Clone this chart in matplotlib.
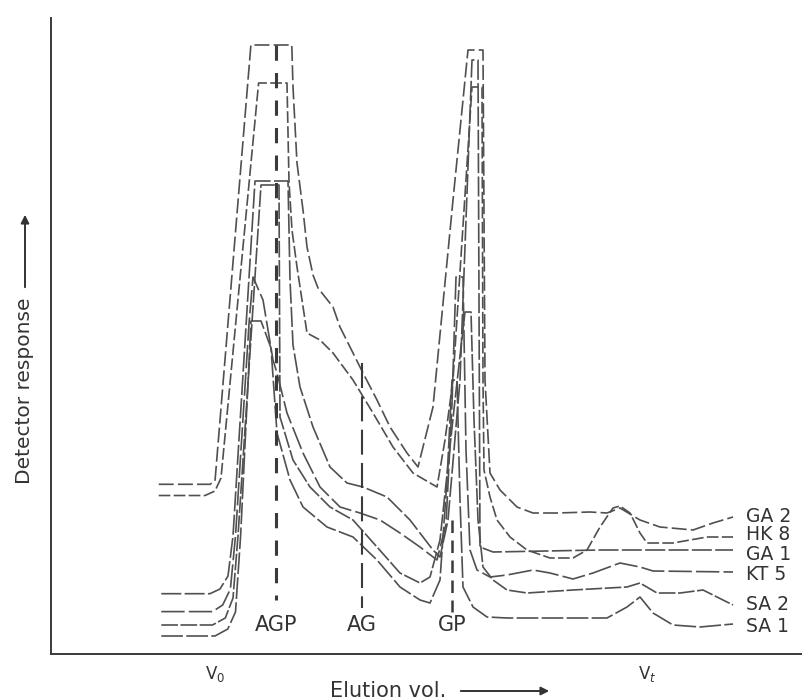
import matplotlib
matplotlib.use("Agg")
import matplotlib.pyplot as plt

# ---- data (elution position, detector response) ----
ga2_x = [158.7, 210, 215, 250.9, 291.8, 293, 297, 303, 307, 313, 318, 333, 340, 353, 363, 377, 390,
         407, 418, 433, 453, 468, 483, 485, 490, 500, 517, 533, 557, 590, 607, 620, 640, 660, 693,
         713, 733]
ga2_y = [169.7, 169.7, 173, 609, 609, 567, 491, 444, 407, 379, 366, 347, 327, 301, 281, 254, 227,
         201, 187, 247, 454, 604, 604, 274, 181, 164, 147, 141, 141, 142, 141, 146, 134, 127, 124,
         131, 137]

hk8_x = [158.7, 205, 215, 221, 258.6, 287, 289, 292, 297, 307, 320, 333, 353, 373, 393, 413, 437,
         445, 453, 472, 482, 483, 484, 490, 497, 510, 527, 550, 573, 587, 600, 613, 620, 630, 640,
         647, 673, 707, 733]
hk8_y = [158.5, 158.5, 163, 176, 571, 571, 472, 424, 387, 321, 314, 301, 274, 241, 207, 181, 167,
         214, 274, 567, 567, 274, 184, 157, 134, 117, 104, 96, 96, 104, 127, 146, 148, 141, 121,
         111, 111, 117, 117]

ga1_x = [161.3, 210, 220, 228, 233, 255, 288, 290, 293, 300, 313, 330, 347, 363, 387, 410, 433,
         440, 448, 460, 472, 478, 479, 480, 493, 600, 733]
ga1_y = [60.3, 60.3, 65, 78, 118, 473, 473, 374, 309, 267, 227, 187, 171, 167, 157, 134, 104,
         97, 134, 274, 594, 594, 354, 107, 102, 104, 104]

kt5_x = [161.3, 212.5, 222.7, 230.4, 235.5, 249, 253, 263, 268, 273, 277, 287, 303, 320, 340, 360,
         380, 400, 420, 437, 446, 452, 456, 463, 466, 470, 477, 490, 507, 533, 550, 573, 593, 620,
         640, 653, 733]
kt5_y = [42.4, 42.4, 49, 65, 118, 330, 377, 354, 324, 294, 281, 241, 201, 167, 147, 141,
         134, 121, 107, 94, 130, 250, 377, 377, 204, 104, 84, 77, 79, 84, 81, 75, 81, 91,
         87, 83, 82]

sa2_x = [161.3, 212.5, 225.3, 233, 238, 261, 279, 280, 293, 310, 330, 353, 377, 400, 420, 430,
         440, 455, 465, 471, 474, 478, 483, 493, 507, 527, 573, 627, 640, 657, 680, 703, 717, 733]
sa2_y = [29, 29, 36, 56, 118, 469, 469, 237, 194, 167, 147, 134, 107, 81, 71, 77,
         114, 254, 342, 342, 234, 134, 87, 74, 64, 61, 64, 67, 71, 61, 61, 64, 57, 49]

sa1_x = [161.3, 215, 227.8, 235.5, 240.6, 251, 261, 271, 277, 290, 303, 327, 353, 377, 400, 420,
         430, 440, 447, 452, 457, 460, 463, 473, 487, 507, 607, 627, 640, 653, 673, 700, 733]
sa1_y = [18, 18, 25, 42, 118, 333, 333, 306, 221, 174, 147, 127, 117, 94, 67, 54,
         51, 74, 174, 274, 274, 154, 67, 47, 37, 36, 36, 47, 57, 41, 29, 27, 30]

series_names = ["GA 2", "HK 8", "GA 1", "KT 5", "SA 2", "SA 1"]
label_y = [138, 119, 100, 80, 50, 28]

# fraction markers
marker_names = ["AGP", "AG", "GP"]
marker_x = [276, 362, 452]
marker_top = [609, 291, 134]
marker_bottom = [54, 46, 42]

# ---- figure ----
fig = plt.figure(figsize=(8.03, 7.0), dpi=100)
ax = fig.add_axes([51 / 803, 46 / 700, 752 / 803, 636 / 700])
ax.set_xlim(51, 803)
ax.set_ylim(0, 636)
for s in ["top", "right"]:
    ax.spines[s].set_visible(False)
for s in ["left", "bottom"]:
    ax.spines[s].set_color("#3a3a3a")
    ax.spines[s].set_linewidth(1.4)
ax.set_xticks([])
ax.set_yticks([])

curves = [(ga2_x, ga2_y), (hk8_x, hk8_y), (ga1_x, ga1_y),
          (kt5_x, kt5_y), (sa2_x, sa2_y), (sa1_x, sa1_y)]
styles = [(0, (9, 2.5)), (0, (7, 2)), (0, (12, 2)), (0, (14, 2.5)), (0, (10, 1.5)), (0, (13, 2))]
for (xs, ys), ls in zip(curves, styles):
    ax.plot(xs, ys, color="#505050", lw=1.2, linestyle=ls, solid_capstyle="butt")

for name, ly in zip(series_names, label_y):
    ax.text(746, ly, name, fontsize=13.5, color="#333333", va="center", ha="left", clip_on=False)

mstyles = [(0, (5, 4)), (0, (12, 4)), (0, (5, 3))]
mlw = [2.2, 1.5, 1.8]
for name, mx, mt, mb, ls, lw in zip(marker_names, marker_x, marker_top, marker_bottom, mstyles, mlw):
    ax.plot([mx, mx], [mt, mb], color="#3a3a3a", lw=lw, linestyle=ls)
    ax.text(mx, 29, name, fontsize=15, color="#333333", ha="center", va="center")

# axis annotations
ax.text(215, -20, r"V$_0$", fontsize=12, color="#333333", ha="center", va="center", clip_on=False)
ax.text(647, -20, r"V$_t$", fontsize=12, color="#333333", ha="center", va="center", clip_on=False)
ax.text(388, -37, "Elution vol.", fontsize=15, color="#333333", ha="center", va="center", clip_on=False)
ax.annotate("", xy=(552, -37), xytext=(458, -37), annotation_clip=False,
            arrowprops=dict(arrowstyle="-|>", color="#333333", lw=1.4, mutation_scale=12))
ax.text(25, 263, "Detector response", fontsize=14.5, color="#333333", rotation=90,
        ha="center", va="center", clip_on=False)
ax.annotate("", xy=(25, 442), xytext=(25, 364), annotation_clip=False,
            arrowprops=dict(arrowstyle="-|>", color="#333333", lw=1.4, mutation_scale=12))

fig.savefig("out.png", dpi=100, facecolor="white")
